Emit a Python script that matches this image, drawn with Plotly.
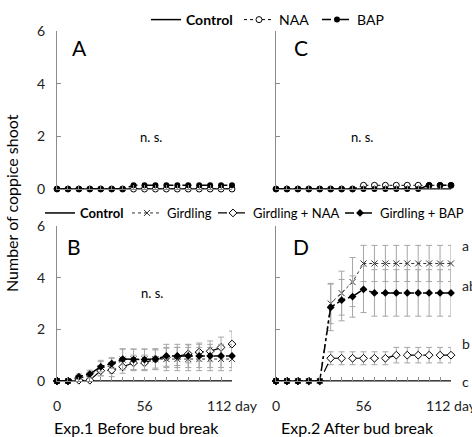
import plotly.graph_objects as go

W, H = 472, 437
FONT = "Lato"

days = [0, 7, 14, 21, 28, 35, 42, 49, 56, 63, 70, 77, 84, 91, 98, 105, 112]

# Exp.1 / Exp.2 top panels (A, C)
a_control = [0, 0, 0, 0, 0, 0, 0, 0, 0, 0, 0, 0, 0, 0, 0, 0, 0]
a_naa = [0, 0, 0, 0, 0, 0, 0, 0, 0, 0, 0, 0, 0, 0, 0, 0, 0]
a_bap = [0, 0, 0, 0, 0, 0, 0, 0.14, 0.14, 0.14, 0.14, 0.14, 0.14, 0.14, 0.14, 0.14, 0.14]

c_control = [0, 0, 0, 0, 0, 0, 0, 0, 0, 0, 0, 0, 0, 0, 0, 0, 0]
c_naa = [0, 0, 0, 0, 0, 0, 0, 0, 0.14, 0.14, 0.14, 0.14, 0.14, 0.14, 0.14, 0.14, 0.14]
c_bap = [0, 0, 0, 0, 0, 0, 0, 0, 0, 0, 0, 0, 0, 0, 0.14, 0.14, 0.14]

# Bottom panels (B, D)
b_control = [0, 0, 0, 0, 0, 0, 0, 0, 0, 0, 0, 0, 0, 0, 0, 0, 0]
b_gird = [0, 0, 0.1, 0.2, 0.5, 0.6, 0.83, 0.84, 0.84, 0.84, 0.85, 0.85, 0.85, 0.85, 0.85, 0.85, 0.85]
b_gird_err = [0, 0, 0.1, 0.15, 0.3, 0.3, 0.4, 0.4, 0.4, 0.4, 0.45, 0.45, 0.45, 0.45, 0.45, 0.45, 0.45]
b_gnaa = [0, 0, 0.03, 0.03, 0.4, 0.42, 0.55, 0.7, 0.7, 0.85, 0.92, 0.95, 1.05, 1.12, 1.15, 1.3, 1.43]
b_gnaa_err = [0, 0, 0.05, 0.05, 0.2, 0.25, 0.25, 0.3, 0.3, 0.35, 0.35, 0.35, 0.35, 0.35, 0.4, 0.4, 0.5]
b_gbap = [0, 0, 0.17, 0.27, 0.55, 0.68, 0.85, 0.83, 0.83, 0.85, 0.97, 0.97, 0.97, 0.97, 0.97, 0.97, 0.97]
b_gbap_err = [0, 0, 0.1, 0.15, 0.2, 0.2, 0.4, 0.4, 0.4, 0.4, 0.45, 0.45, 0.45, 0.45, 0.45, 0.45, 0.45]

d_control = [0, 0, 0, 0, 0, 0, 0, 0, 0, 0, 0, 0, 0, 0, 0, 0, 0]
d_gird = [0, 0, 0, 0, 0, 3.0, 3.4, 3.83, 4.55, 4.55, 4.55, 4.55, 4.55, 4.55, 4.55, 4.55, 4.55]
d_gird_err = [0, 0, 0, 0, 0, 0.78, 0.85, 0.95, 0.7, 0.7, 0.7, 0.7, 0.7, 0.7, 0.7, 0.7, 0.7]
d_gnaa = [0, 0, 0, 0, 0, 0.88, 0.88, 0.88, 0.88, 0.88, 0.88, 1.0, 1.0, 1.0, 1.0, 1.0, 1.0]
d_gnaa_err = [0, 0, 0, 0, 0, 0.25, 0.25, 0.25, 0.25, 0.25, 0.25, 0.3, 0.3, 0.3, 0.3, 0.3, 0.3]
d_gbap = [0, 0, 0, 0, 0, 2.85, 3.13, 3.27, 3.55, 3.41, 3.41, 3.41, 3.41, 3.41, 3.41, 3.41, 3.41]
d_gbap_err = [0, 0, 0, 0, 0, 0.9, 0.8, 0.8, 0.9, 0.9, 0.9, 0.9, 0.9, 0.9, 0.9, 0.9, 0.9]

x_tickvals = [0, 56, 112]
x_ticktext = ["0", "56", "112 day"]
y_tickvals = [0, 2, 4, 6]
sig_letters = ["a", "ab", "b", "c"]
sig_values = [5.25, 3.7, 1.45, 0]

ERRC = "#a6a6a6"
AXC = "#8c8c8c"


def err(vals):
    return dict(type="data", array=vals, visible=True, color=ERRC, thickness=1, width=3)


fig = go.Figure()


def add_top(xa, ya, ctrl, naa, bap, show):
    fig.add_trace(go.Scatter(x=days, y=ctrl, name="<b>Control</b>", mode="lines",
                             line=dict(color="black", width=1.5), xaxis=xa, yaxis=ya,
                             legend="legend", showlegend=show, legendwidth=48, cliponaxis=False))
    fig.add_trace(go.Scatter(x=days, y=naa, name="NAA", mode="lines+markers",
                             line=dict(color="black", width=1, dash="dot"),
                             marker=dict(symbol="circle", size=6, color="white",
                                         line=dict(color="black", width=1)),
                             xaxis=xa, yaxis=ya, legend="legend", showlegend=show,
                             legendwidth=33, cliponaxis=False))
    fig.add_trace(go.Scatter(x=days, y=bap, name="BAP", mode="lines+markers",
                             line=dict(color="black", width=1.5, dash="dash"),
                             marker=dict(symbol="circle", size=6, color="black"),
                             xaxis=xa, yaxis=ya, legend="legend", showlegend=show,
                             legendwidth=32, cliponaxis=False))


def add_bottom(xa, ya, ctrl, gird, girde, gnaa, gnaae, gbap, gbape, show):
    fig.add_trace(go.Scatter(x=days, y=ctrl, name="<b>Control</b>", mode="lines",
                             line=dict(color="black", width=1.5), xaxis=xa, yaxis=ya,
                             legend="legend2", showlegend=show, legendwidth=42, cliponaxis=False))
    fig.add_trace(go.Scatter(x=days, y=gird, name="Girdling", mode="lines+markers",
                             line=dict(color="#333333", width=1, dash="dot"),
                             marker=dict(symbol="x-thin-open", size=6,
                                         line=dict(color="#333333", width=1)),
                             error_y=err(girde),
                             xaxis=xa, yaxis=ya, legend="legend2", showlegend=show,
                             legendwidth=41, cliponaxis=False))
    fig.add_trace(go.Scatter(x=days, y=gnaa, name="Girdling + NAA", mode="lines+markers",
                             line=dict(color="black", width=1.2, dash="dash"),
                             marker=dict(symbol="diamond", size=6, color="white",
                                         line=dict(color="black", width=1)),
                             error_y=err(gnaae),
                             xaxis=xa, yaxis=ya, legend="legend2", showlegend=show,
                             legendwidth=82, cliponaxis=False))
    fig.add_trace(go.Scatter(x=days, y=gbap, name="Girdling + BAP", mode="lines+markers",
                             line=dict(color="black", width=1.5, dash="dashdot"),
                             marker=dict(symbol="diamond", size=6, color="black"),
                             error_y=err(gbape),
                             xaxis=xa, yaxis=ya, legend="legend2", showlegend=show,
                             legendwidth=82, cliponaxis=False))


add_top("x", "y", a_control, a_naa, a_bap, True)
add_top("x2", "y2", c_control, c_naa, c_bap, False)
add_bottom("x3", "y3", b_control, b_gird, b_gird_err, b_gnaa, b_gnaa_err, b_gbap, b_gbap_err, True)
add_bottom("x4", "y4", d_control, d_gird, d_gird_err, d_gnaa, d_gnaa_err, d_gbap, d_gbap_err, False)


def px_x(p):
    return p / W


def px_y(p):
    return 1 - p / H


left_dom = [px_x(57), px_x(232)]
right_dom = [px_x(276), px_x(451)]
top_dom = [px_y(189), px_y(31)]
bot_dom = [px_y(381), px_y(226)]


def xaxis(dom, anchor, labels):
    return dict(domain=dom, anchor=anchor, range=[0, 112], showgrid=False, zeroline=False,
                showline=True, linecolor=AXC, linewidth=1,
                tickvals=x_tickvals, ticktext=x_ticktext, ticks="inside", ticklen=4,
                tickcolor=AXC, showticklabels=labels, ticklabelstandoff=12,
                ticklabeloverflow="allow",
                minor=dict(dtick=7, tick0=0, ticks="inside", ticklen=4, tickcolor=AXC),
                tickfont=dict(family=FONT, size=14, color="#222"))


def yaxis(dom, anchor, labels):
    return dict(domain=dom, anchor=anchor, range=[0, 6], showgrid=False, zeroline=False,
                showline=True, linecolor=AXC, linewidth=1,
                tickvals=y_tickvals, ticks="inside", ticklen=4, tickcolor=AXC,
                showticklabels=labels, ticklabelstandoff=8,
                tickfont=dict(family=FONT, size=14, color="#222"))


annotations = []


def ann(text, x, y, size, **kw):
    d = dict(text=text, x=px_x(x), y=px_y(y), xref="paper", yref="paper", showarrow=False,
             xanchor="center", yanchor="middle",
             font=dict(family=FONT, size=size, color="black"))
    d.update(kw)
    annotations.append(d)


ann("A", 79, 48, 21)
ann("C", 301, 48, 21)
ann("B", 74, 247, 21)
ann("D", 301, 247, 21)
ann("n. s.", 151, 137, 13)
ann("n. s.", 362, 137, 13)
ann("n. s.", 152, 293, 13)
ann("Number of coppice shoot", 12, 203, 16, textangle=-90)
ann("Exp.1 Before bud break", 136, 427, 16)
ann("Exp.2 After bud break", 357, 427, 16)

for letter, val in zip(sig_letters, sig_values):
    annotations.append(dict(text=letter, x=px_x(460), y=val, xref="paper", yref="y4",
                            showarrow=False, xanchor="left", yanchor="middle",
                            font=dict(family=FONT, size=14, color="#222")))

fig.update_layout(
    width=W, height=H, margin=dict(l=0, r=0, t=0, b=0, pad=0, autoexpand=False),
    paper_bgcolor="white", plot_bgcolor="white",
    font=dict(family=FONT, size=14, color="black"),
    xaxis=xaxis(left_dom, "y", False), yaxis=yaxis(top_dom, "x", True),
    xaxis2=xaxis(right_dom, "y2", False), yaxis2=yaxis(top_dom, "x2", False),
    xaxis3=xaxis(left_dom, "y3", True), yaxis3=yaxis(bot_dom, "x3", True),
    xaxis4=xaxis(right_dom, "y4", True), yaxis4=yaxis(bot_dom, "x4", False),
    legend=dict(orientation="h", x=px_x(146), y=px_y(20), xanchor="left", yanchor="middle",
                font=dict(family=FONT, size=14, color="black"), bgcolor="rgba(0,0,0,0)",
                itemwidth=30),
    legend2=dict(orientation="h", x=px_x(40), y=px_y(213), xanchor="left", yanchor="middle",
                 font=dict(family=FONT, size=13, color="black"), bgcolor="rgba(0,0,0,0)",
                 itemwidth=30),
    annotations=annotations,
)

fig.write_html("out.html")
